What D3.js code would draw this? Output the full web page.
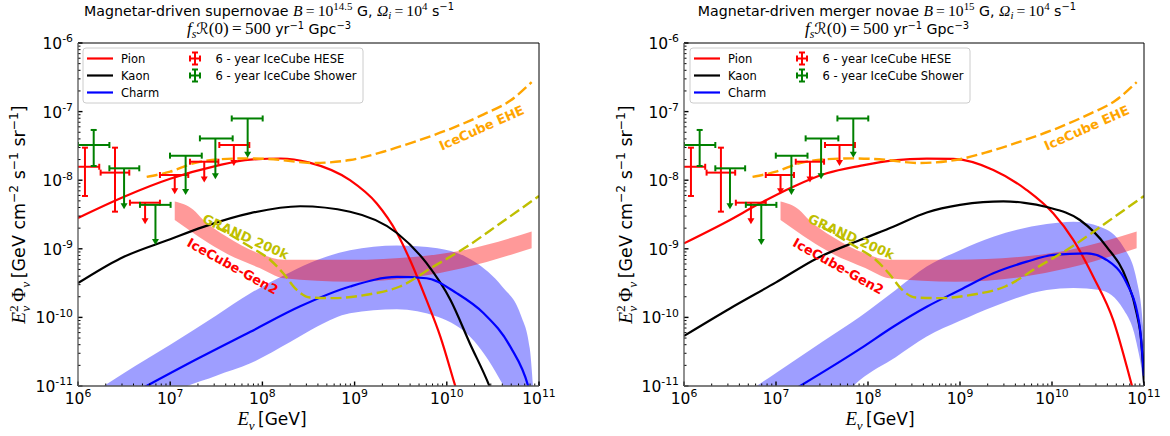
<!DOCTYPE html>
<html>
<head>
<meta charset="utf-8">
<script src="https://cdn.jsdelivr.net/npm/d3@7"></script>
<style>
  html, body { margin: 0; padding: 0; background: #fff; }
  svg { display: block; }
</style>
</head>
<body>
<svg id="fig" width="1170" height="436"></svg>
<script>
// ---------------- IceCube data (same in both panels) ----------------
const heseE     = [1.19e6, 2.52e6, 5.34e6, 1.12e7, 2.34e7, 4.90e7];
const heseEmin  = [8.34e5, 1.76e6, 3.66e6, 7.74e6, 1.64e7, 3.41e7];
const heseEmax  = [1.70e6, 3.60e6, 7.74e6, 1.57e7, 3.33e7, 7.21e7];
const heseF     = [1.57e-8, 1.29e-8, 4.70e-9, 1.19e-8, 1.86e-8, 3.26e-8];
const heseFhi   = [2.98e-8, 2.98e-8, null, null, null, null];
const heseFlo   = [5.89e-9, 3.48e-9, 2.35e-9, 6.46e-9, 9.55e-9, 1.66e-8];
const heseUL    = [false, false, true, true, true, true];

const showerE    = [1.48e6, 3.16e6, 6.92e6, 1.47e7, 3.09e7, 6.92e7];
const showerEmin = [1.0e6, 2.19e6, 4.70e6, 9.95e6, 2.10e7, 4.65e7];
const showerEmax = [2.19e6, 4.62e6, 1.01e7, 2.20e7, 4.76e7, 1.007e8];
const showerF    = [3.26e-8, 1.49e-8, 4.37e-9, 2.28e-8, 4.07e-8, 7.94e-8];
const showerFhi  = [5.40e-8, null, null, null, null, null];
const showerFlo  = [1.61e-8, 3.89e-9, 1.17e-9, 6.31e-9, 1.07e-8, 2.19e-8];
const showerUL   = [false, true, true, true, true, true];

// ---------------- detector sensitivities ----------------
const eheE = [5.56e6, 1.0e7, 1.78e7, 3.47e7, 6.76e7, 1.32e8, 3.55e8, 8.91e8, 2.04e9, 4.68e9, 1.10e10, 2.51e10, 4.90e10, 8.32e10];
const eheF = [1.12e-8, 1.33e-8, 1.76e-8, 2.02e-8, 2.08e-8, 2.02e-8, 1.78e-8, 1.97e-8, 2.60e-8, 3.72e-8, 5.62e-8, 9.12e-8, 1.45e-7, 2.69e-7];

const grandE = [3.16e7, 7.35e7, 1.21e8, 1.69e8, 2.36e8, 3.28e8, 5.87e8, 1.35e9, 3.10e9, 7.14e9, 1.64e10, 3.78e10, 1.0e11];
const grandF = [2.09e-9, 1.07e-9, 6.92e-10, 4.37e-10, 2.51e-10, 1.95e-10, 1.91e-10, 2.14e-10, 2.82e-10, 5.50e-10, 1.07e-9, 2.34e-9, 5.89e-9];

const gen2E  = [1.12e7, 1.78e7, 2.29e7, 4.07e7, 9.33e7, 1.70e8, 8.91e8, 4.68e9, 1.51e10, 8.32e10];
const gen2Hi = [4.90e-9, 3.72e-9, 2.63e-9, 1.51e-9, 8.51e-10, 6.92e-10, 6.92e-10, 7.67e-10, 9.55e-10, 1.78e-9];
const gen2Lo = [2.63e-9, 1.70e-9, 1.35e-9, 8.51e-10, 5.25e-10, 3.72e-10, 3.31e-10, 3.89e-10, 5.25e-10, 1.02e-9];

// ---------------- magnetar-driven supernovae (B = 10^14.5 G) ----------------
const snPionE  = [1.0e6, 3.16e6, 1.0e7, 3.16e7, 7.41e7, 1.58e8, 3.16e8, 8.91e8, 1.74e9, 2.88e9, 3.98e9, 6.03e9, 8.51e9, 1.23e10, 1.41e10];
const snPionF  = [2.82e-9, 5.75e-9, 1.05e-8, 1.62e-8, 2.0e-8, 2.07e-8, 1.82e-8, 1.0e-8, 4.57e-9, 1.70e-9, 6.92e-10, 1.78e-10, 5.25e-11, 1.02e-11, 5.6e-12];
const snKaonE  = [1.0e6, 2.88e6, 1.0e7, 2.29e7, 7.41e7, 2.57e8, 8.91e8, 2.88e9, 6.03e9, 1.10e10, 1.78e10, 2.88e10, 3.31e10];
const snKaonF  = [3.16e-10, 7.24e-10, 1.38e-9, 2.09e-9, 3.31e-9, 4.17e-9, 3.47e-9, 1.70e-9, 6.17e-10, 1.78e-10, 4.17e-11, 1.02e-11, 6.3e-12];
const snCharmE = [5.01e6, 2.0e7, 7.41e7, 2.57e8, 8.91e8, 2.88e9, 6.03e9, 1.29e10, 2.51e10, 4.90e10, 7.59e10, 8.32e10];
const snCharmF = [9.3e-12, 2.51e-11, 6.17e-11, 1.45e-10, 2.82e-10, 3.89e-10, 3.72e-10, 2.24e-10, 1.15e-10, 3.72e-11, 1.02e-11, 6.3e-12];
const snBandE  = [1.58e6, 3.16e6, 1.0e7, 3.16e7, 7.41e7, 2.0e8, 3.98e8, 8.91e8, 2.88e9, 7.94e9, 2.0e10, 3.98e10, 6.31e10, 7.94e10, 8.91e10];
const snBandHi = [8.5e-12, 1.55e-11, 3.98e-11, 1.07e-10, 2.24e-10, 4.57e-10, 6.92e-10, 9.55e-10, 1.12e-9, 1.02e-9, 6.46e-10, 2.82e-10, 1.10e-10, 3.55e-11, 5.0e-12];
const snBandLo = [6.3e-13, 1.12e-12, 7.08e-12, 1.41e-11, 2.14e-11, 4.37e-11, 7.41e-11, 1.15e-10, 1.32e-10, 1.02e-10, 4.47e-11, 1.10e-11, 3.16e-12, 1.58e-12, 1.0e-12];

// ---------------- magnetar-driven merger novae (B = 10^15 G) ----------------
const mnPionE  = [1.0e6, 2.91e6, 6.70e6, 1.54e7, 3.56e7, 8.18e7, 1.88e8, 4.35e8, 8.45e8, 2.30e9, 5.31e9, 1.03e10, 1.71e10, 2.81e10, 4.63e10, 7.35e10, 8.32e10];
const mnPionF  = [1.20e-9, 2.48e-9, 4.60e-9, 8.04e-9, 1.26e-8, 1.62e-8, 1.95e-8, 2.06e-8, 2.04e-8, 1.41e-8, 7.19e-9, 3.29e-9, 1.34e-9, 3.92e-10, 9.16e-11, 1.04e-11, 5.6e-12];
const mnKaonE  = [1.0e6, 3.16e6, 1.0e7, 2.77e7, 8.18e7, 1.88e8, 4.35e8, 1.0e9, 1.78e9, 2.96e9, 5.01e9, 8.75e9, 2.01e10, 3.93e10, 6.49e10, 8.32e10, 9.33e10, 1.0e11];
const mnKaonF  = [5.37e-11, 1.35e-10, 3.24e-10, 7.24e-10, 1.34e-9, 2.10e-9, 3.39e-9, 4.37e-9, 4.79e-9, 4.90e-9, 4.68e-9, 4.07e-9, 2.63e-9, 1.07e-9, 3.51e-10, 1.15e-10, 4.47e-11, 1.12e-11];
const mnCharmE = [1.58e7, 8.18e7, 1.88e8, 4.35e8, 1.0e9, 2.30e9, 5.31e9, 1.03e10, 2.38e10, 3.93e10, 6.49e10, 8.32e10, 9.12e10, 1.0e11];
const mnCharmF = [8.9e-12, 3.47e-11, 7.31e-11, 1.43e-10, 2.51e-10, 4.40e-10, 6.49e-10, 8.13e-10, 8.59e-10, 6.87e-10, 3.14e-10, 1.28e-10, 6.31e-11, 1.41e-11];
const mnBandE  = [5.01e6, 1.0e7, 3.16e7, 8.18e7, 2.0e8, 4.35e8, 1.0e9, 2.30e9, 8.75e9, 1.71e10, 3.33e10, 5.96e10, 8.32e10, 9.77e10, 1.0e11];
const mnBandHi = [8.3e-12, 1.55e-11, 4.37e-11, 1.02e-10, 2.51e-10, 5.50e-10, 9.55e-10, 1.50e-9, 2.30e-9, 2.48e-9, 2.10e-9, 1.07e-9, 3.51e-10, 7.31e-11, 3.98e-11];
const mnBandLo = [3.2e-13, 6.3e-13, 3.16e-12, 1.22e-11, 2.63e-11, 5.25e-11, 8.91e-11, 1.43e-10, 2.51e-10, 2.69e-10, 2.51e-10, 1.32e-10, 4.17e-11, 1.12e-11, 7.9e-12];

// axis decades
const xDecades = [6, 7, 8, 9, 10, 11];
const yDecades = [-11, -10, -9, -8, -7, -6];

// ---------------- drawing ----------------
const SANS  = '"DejaVu Sans", sans-serif';
const SERIF = '"Liberation Serif", "DejaVu Serif", serif';
const Y0 = 43, Y1 = 386;
const svg = d3.select('#fig');

// rich text: segments [text, font, kind, dx, sizeScale]
function rich(sel, segs, fs, supShift) {
  const up = supShift || 0.42;
  let cur = 0;
  segs.forEach(([t, f, k, dx, sc]) => {
    const base = fs * (sc || 1);
    const target = k === 'sup' ? -up * fs : k === 'sub' ? 0.28 * fs : 0;
    const fam = f === 'sans' ? SANS : f === 'cal' ? '"DejaVu Sans", sans-serif' : SERIF;
    const ts = sel.append('tspan').text(t)
      .attr('dy', (target - cur).toFixed(2))
      .style('font-size', (k ? 0.7 * base : base) + 'px')
      .style('font-family', fam)
      .style('font-style', f === 'serifI' || f === 'cal' ? 'italic' : 'normal');
    if (dx) ts.attr('dx', dx);
    cur = target;
  });
}

function errorbars(g, x, y, E, Emin, Emax, F, Fhi, Flo, UL, color) {
  E.forEach((e, i) => {
    const cx = x(e), cy = y(F[i]);
    const b = g.append('g').attr('stroke', color).attr('stroke-width', 2).attr('fill', color);
    b.append('line').attr('x1', x(Emin[i])).attr('x2', x(Emax[i])).attr('y1', cy).attr('y2', cy);
    [Emin[i], Emax[i]].forEach(v => b.append('line').attr('x1', x(v)).attr('x2', x(v)).attr('y1', cy - 3).attr('y2', cy + 3));
    if (UL[i]) {
      const ye = y(Flo[i]);
      b.append('line').attr('x1', cx).attr('x2', cx).attr('y1', cy).attr('y2', ye - 3);
      b.append('path').attr('stroke', 'none')
        .attr('d', `M${cx - 3.5},${ye - 5}L${cx + 3.5},${ye - 5}L${cx},${ye + 1}Z`);
    } else {
      const yt = y(Fhi[i]), yb = y(Flo[i]);
      b.append('line').attr('x1', cx).attr('x2', cx).attr('y1', yt).attr('y2', yb);
      [yt, yb].forEach(v => b.append('line').attr('x1', cx - 3).attr('x2', cx + 3).attr('y1', v).attr('y2', v));
    }
  });
}

function drawPanel(p) {
  const x = d3.scaleLog().domain([1e6, 1e11]).range([p.x0, p.x1]);
  const y = d3.scaleLog().domain([1e-11, 1e-6]).range([Y1, Y0]);
  const g = svg.append('g');

  svg.append('clipPath').attr('id', 'clip-' + p.id)
    .append('rect').attr('x', p.x0).attr('y', Y0).attr('width', p.x1 - p.x0).attr('height', Y1 - Y0);
  const plot = g.append('g').attr('clip-path', `url(#clip-${p.id})`);

  const area = d3.area().x(d => x(d[0])).y0(d => y(d[1])).y1(d => y(d[2])).curve(d3.curveMonotoneX);
  const line = d3.line().x(d => x(d[0])).y(d => y(d[1])).curve(d3.curveMonotoneX);
  const z2 = (a, b) => a.map((v, i) => [v, b[i]]);
  const z3 = (a, b, c) => a.map((v, i) => [v, b[i], c[i]]);

  // uncertainty band of the charm component, then the Gen2 sensitivity band
  plot.append('path').attr('d', area(z3(p.bandE, p.bandLo, p.bandHi))).attr('fill', '#0000ff').attr('fill-opacity', 0.38);
  plot.append('path').attr('d', area(z3(gen2E, gen2Lo, gen2Hi))).attr('fill', '#ff0000').attr('fill-opacity', 0.4);

  // model curves
  [[p.pionE, p.pionF, '#ff0000'], [p.kaonE, p.kaonF, '#000000'], [p.charmE, p.charmF, '#0000ff']].forEach(([E, F, c]) =>
    plot.append('path').attr('d', line(z2(E, F))).attr('fill', 'none').attr('stroke', c).attr('stroke-width', 2.2));

  // sensitivities
  plot.append('path').attr('d', line(z2(eheE, eheF))).attr('fill', 'none').attr('stroke', '#ffa500')
    .attr('stroke-width', 2.4).attr('stroke-dasharray', '11,4.5');
  plot.append('path').attr('d', line(z2(grandE, grandF))).attr('fill', 'none').attr('stroke', '#bfbf00')
    .attr('stroke-width', 2.4).attr('stroke-dasharray', '11,4.5');

  // IceCube measurements
  errorbars(plot, x, y, heseE, heseEmin, heseEmax, heseF, heseFhi, heseFlo, heseUL, '#ff0000');
  errorbars(plot, x, y, showerE, showerEmin, showerEmax, showerF, showerFhi, showerFlo, showerUL, '#008000');

  // labels on the sensitivity curves
  const lab = (t, E, F, rot, c) => g.append('text').text(t)
    .attr('transform', `translate(${x(E)},${y(F)}) rotate(${rot})`)
    .attr('text-anchor', 'middle').attr('dominant-baseline', 'middle')
    .style('font-family', SANS).style('font-weight', 'bold').style('font-size', '13px').attr('fill', c);
  lab('IceCube EHE', 2.41e10, 5.6e-8, -24, '#ffa500');
  lab('GRAND 200k', 6.5e7, 1.45e-9, 24, '#bfbf00');
  lab('IceCube-Gen2', 4.7e7, 5.4e-10, 29, '#ff0000');

  // axes
  const ax = g.append('g');
  yDecades.forEach(d => {
    for (let m = 1; m < 10; m++) {
      const v = m * Math.pow(10, d);
      if (v > 1e-6 * 1.0001) break;
      const yy = y(v);
      ax.append('line').attr('x1', p.x0).attr('x2', p.x0 + (m === 1 ? 4.5 : 2.5)).attr('y1', yy).attr('y2', yy)
        .attr('stroke', '#000').attr('stroke-width', m === 1 ? 1.4 : 1);
    }
    const t = ax.append('text').attr('x', p.x0 - 5).attr('y', y(Math.pow(10, d)) + 6).attr('text-anchor', 'end').attr('fill', '#000');
    rich(t, [['10', 'sans'], [String(d), 'sans', 'sup']], 15.5);
  });
  xDecades.forEach(d => {
    for (let m = 1; m < 10; m++) {
      const v = m * Math.pow(10, d);
      if (v > 1e11 * 1.0001) break;
      const xx = x(v);
      ax.append('line').attr('x1', xx).attr('x2', xx).attr('y1', Y1).attr('y2', Y1 - (m === 1 ? 4.5 : 2.5))
        .attr('stroke', '#000').attr('stroke-width', m === 1 ? 1.4 : 1);
    }
    const t = ax.append('text').attr('x', x(Math.pow(10, d))).attr('y', 404).attr('text-anchor', 'middle').attr('fill', '#000');
    rich(t, [['10', 'sans'], [String(d), 'sans', 'sup']], 15.5);
  });
  ax.append('line').attr('x1', p.x0).attr('x2', p.x1).attr('y1', Y0).attr('y2', Y0).attr('stroke', '#000');
  ax.append('line').attr('x1', p.x1).attr('x2', p.x1).attr('y1', Y0).attr('y2', Y1).attr('stroke', '#000');
  ax.append('line').attr('x1', p.x0).attr('x2', p.x0).attr('y1', Y0).attr('y2', Y1).attr('stroke', '#555').attr('stroke-width', 1.3);
  ax.append('line').attr('x1', p.x0).attr('x2', p.x1).attr('y1', Y1).attr('y2', Y1).attr('stroke', '#555').attr('stroke-width', 1.3);

  // axis titles
  const xl = g.append('text').attr('x', p.xlabX).attr('y', 425).attr('text-anchor', 'middle');
  rich(xl, [['E', 'serifI', null, null, 1.1], ['ν', 'serifI', 'sub', null, 1.1], ['\u2009[GeV]', 'sans']], 17);
  const yl = g.append('text').attr('transform', `translate(${p.ylabX},214.5) rotate(-90)`).attr('text-anchor', 'middle');
  rich(yl, [['E', 'serifI', null, null, 1.1], ['2', 'serif', 'sup', null, 1.1], ['ν', 'serifI', 'sub', -6.5, 1.1],
            ['\u2009Φ', 'serif', null, null, 1.1], ['ν', 'serifI', 'sub', null, 1.1],
            ['\u2009[GeV cm', 'sans'], ['−2', 'sans', 'sup'], [' s', 'sans'], ['−1', 'sans', 'sup'],
            [' sr', 'sans'], ['−1', 'sans', 'sup'], [']', 'sans']], 17.5);

  // title
  const t1 = g.append('text').attr('x', p.titleX).attr('y', 15.5).attr('text-anchor', 'middle');
  rich(t1, p.title, 14.2, 0.36);
  const t2 = g.append('text').attr('x', p.titleX).attr('y', 34).attr('text-anchor', 'middle');
  rich(t2, [['f', 'serifI', null, null, 1.2], ['s', 'serifI', 'sub', null, 1.2], ['ℛ', 'cal', null, null, 1.1],
            ['(0)\u2009=\u2009500', 'serif', null, null, 1.2],
            [' yr', 'sans'], ['−1', 'sans', 'sup'], [' Gpc', 'sans'], ['−3', 'sans', 'sup']], 14.2, 0.36);

  // legend
  const L = g.append('g').attr('transform', `translate(${p.legX},48)`);
  L.append('rect').attr('x', 0).attr('y', 0).attr('width', 280).attr('height', 55).attr('rx', 3)
    .attr('fill', '#fff').attr('fill-opacity', 0.8).attr('stroke', '#ccc');
  [['Pion', '#ff0000'], ['Kaon', '#000000'], ['Charm', '#0000ff']].forEach(([n, c], i) => {
    const yy = 10.5 + i * 17;
    L.append('line').attr('x1', 4).attr('x2', 30).attr('y1', yy).attr('y2', yy).attr('stroke', c).attr('stroke-width', 2.2);
    L.append('text').attr('x', 38).attr('y', yy + 4).text(n).style('font-family', SANS).style('font-size', '11.5px');
  });
  [['6 - year IceCube HESE', '#ff0000'], ['6 - year IceCube Shower', '#008000']].forEach(([n, c], i) => {
    const yy = 10.5 + i * 17, cx = 112;
    const m = L.append('g').attr('stroke', c).attr('stroke-width', 2);
    m.append('line').attr('x1', cx - 5).attr('x2', cx + 5).attr('y1', yy).attr('y2', yy);
    m.append('line').attr('x1', cx).attr('x2', cx).attr('y1', yy - 6).attr('y2', yy + 6);
    [cx - 5, cx + 5].forEach(v => m.append('line').attr('x1', v).attr('x2', v).attr('y1', yy - 3).attr('y2', yy + 3));
    [yy - 6, yy + 6].forEach(v => m.append('line').attr('x1', cx - 3).attr('x2', cx + 3).attr('y1', v).attr('y2', v));
    L.append('text').attr('x', 132.5).attr('y', yy + 4).text(n).style('font-family', SANS).style('font-size', '11.5px');
  });
}

const mathB = (exp) => [['B', 'serifI', null, null, 1.1], ['\u2009=\u200910', 'serif', null, null, 1.1], [exp, 'serif', 'sup', null, 1.1],
  [' G, ', 'sans'], ['Ω', 'serifI', null, null, 1.1], ['i', 'serifI', 'sub', null, 1.1], ['\u2009=\u200910', 'serif', null, null, 1.1],
  ['4', 'serif', 'sup', null, 1.1], [' s', 'sans'], ['−1', 'sans', 'sup']];

drawPanel({
  id: 'sn', x0: 78, x1: 539, titleX: 269, xlabX: 272, ylabX: 25, legX: 83,
  title: [['Magnetar-driven supernovae ', 'sans']].concat(mathB('14.5')),
  pionE: snPionE, pionF: snPionF, kaonE: snKaonE, kaonF: snKaonF, charmE: snCharmE, charmF: snCharmF,
  bandE: snBandE, bandHi: snBandHi, bandLo: snBandLo
});
drawPanel({
  id: 'mn', x0: 684, x1: 1144, titleX: 887, xlabX: 880, ylabX: 632, legX: 690,
  title: [['Magnetar-driven merger novae ', 'sans']].concat(mathB('15')),
  pionE: mnPionE, pionF: mnPionF, kaonE: mnKaonE, kaonF: mnKaonF, charmE: mnCharmE, charmF: mnCharmF,
  bandE: mnBandE, bandHi: mnBandHi, bandLo: mnBandLo
});
</script>
</body>
</html>
